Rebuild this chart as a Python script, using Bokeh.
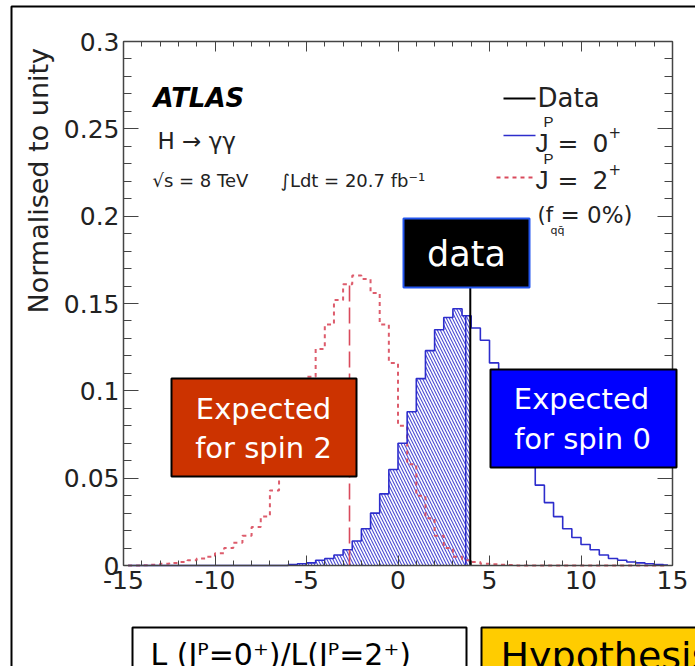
from math import pi
from bokeh.plotting import figure
from bokeh.models import (Label, BoxAnnotation, Arrow, LinearAxis, Range1d,
                          SingleIntervalTicker, CustomJSTickFormatter)
from bokeh.embed import file_html
from bokeh.resources import INLINE

# ---------------- data ----------------
bin_centers = [-14.75, -14.25, -13.75, -13.25, -12.75, -12.25, -11.75, -11.25, -10.75, -10.25,
               -9.75, -9.25, -8.75, -8.25, -7.75, -7.25, -6.75, -6.25, -5.75, -5.25,
               -4.75, -4.25, -3.75, -3.25, -2.75, -2.25, -1.75, -1.25, -0.75, -0.25,
               0.25, 0.75, 1.25, 1.75, 2.25, 2.75, 3.25, 3.75, 4.25, 4.75,
               5.25, 5.75, 6.25, 6.75, 7.25, 7.75, 8.25, 8.75, 9.25, 9.75,
               10.25, 10.75, 11.25, 11.75, 12.25, 12.75, 13.25, 13.75, 14.25, 14.75]
bin_width = 0.5

spin0 = [0, 0, 0, 0, 0, 0, 0, 0, 0, 0,
         0, 0, 0, 0, 0, 0, 0, 0, 0.0005, 0.001,
         0.0015, 0.003, 0.004, 0.006, 0.009, 0.014, 0.021, 0.030, 0.041, 0.055,
         0.070, 0.088, 0.107, 0.123, 0.135, 0.142, 0.147, 0.143, 0.136, 0.129,
         0.116, 0.102, 0.087, 0.073, 0.058, 0.046, 0.036, 0.028, 0.021, 0.016,
         0.012, 0.009, 0.006, 0.004, 0.003, 0.002, 0.0015, 0.001, 0.0005, 0.0003]

spin2 = [0, 0, 0.0002, 0.0005, 0.001, 0.0015, 0.002, 0.003, 0.004, 0.005,
         0.007, 0.010, 0.013, 0.017, 0.022, 0.028, 0.043, 0.062, 0.078, 0.095,
         0.108, 0.124, 0.138, 0.152, 0.161, 0.166, 0.164, 0.156, 0.138, 0.116,
         0.080, 0.058, 0.040, 0.027, 0.017, 0.010, 0.005, 0.003, 0.002, 0.001,
         0.0007, 0.0005, 0.0003, 0, 0, 0, 0, 0, 0, 0,
         0, 0, 0, 0, 0, 0, 0, 0, 0, 0]

data_value = 3.95
data_line_top = 0.16
hatch_edge = 3.7
median_spin2 = -2.65
median_spin2_top = 0.161

x_lo, x_hi = -15, 15
y_lo, y_hi = 0, 0.3
x_tick_interval = 5
y_tick_interval = 0.05

# ---------------- layout (pixels) ----------------
W, H = 695, 666
FL, FR, FT, FB = 123, 672, 41, 565   # plot box edges on the canvas

FONT = "DejaVu Sans"
FONT_J = "Liberation Sans"
BLUE = "#2d2dcc"
RED = "#d94a5c"
AXC = "#444444"
TXT = "#222222"

# the figure's frame covers the whole canvas; the plot box is placed inside it
kx = (FR - FL) / (x_hi - x_lo)
ky = (FB - FT) / (y_hi - y_lo)
xr = Range1d(x_lo - FL / kx, x_hi + (W - FR) / kx)
yr = Range1d(y_lo - (H - FB) / ky, y_hi + FT / ky)

p = figure(width=W, height=H, output_backend="svg", toolbar_location=None,
           x_range=xr, y_range=yr, x_axis_location=None, y_axis_location=None,
           min_border=0, min_border_left=0, min_border_right=0,
           min_border_top=0, min_border_bottom=0)
p.grid.visible = False
p.outline_line_color = None
p.background_fill_color = "white"
p.border_fill_color = "white"

xfmt = CustomJSTickFormatter(code="return tick.toFixed(0);")
yfmt = CustomJSTickFormatter(code="return tick.toFixed(2).replace(/0+$/,'').replace(/\\.$/,'');")
eps = 1e-6

def make_axis(interval, bounds, loc, tin, tout, mtin, mtout, fmt, standoff, show_labels=True):
    ax = LinearAxis(ticker=SingleIntervalTicker(interval=interval, num_minor_ticks=5),
                    formatter=fmt, fixed_location=loc, bounds=bounds)
    ax.axis_line_color = AXC
    ax.axis_line_width = 1.5
    ax.major_tick_line_color = AXC
    ax.minor_tick_line_color = AXC
    ax.major_tick_in = tin
    ax.major_tick_out = tout
    ax.minor_tick_in = mtin
    ax.minor_tick_out = mtout
    ax.major_label_text_font = FONT
    ax.major_label_text_font_size = "25px"
    ax.major_label_text_color = TXT if show_labels else None
    ax.major_label_standoff = standoff
    return ax

xb = (x_lo - eps, x_hi + eps)
yb = (y_lo - eps, y_hi + eps)
# bottom and left axes with labels; top and right edges of the box drawn by
# label-less axes whose ticks point into the box
p.add_layout(make_axis(x_tick_interval, xb, y_lo, 10, 0, 5, 0, xfmt, 5), "below")
p.add_layout(make_axis(y_tick_interval, yb, x_lo, 15, 0, 8, 0, yfmt, 4), "left")
p.add_layout(make_axis(x_tick_interval, xb, y_hi, 0, 10, 0, 5, xfmt, 0, False), "below")
p.add_layout(make_axis(y_tick_interval, yb, x_hi, 0, 15, 0, 8, yfmt, 0, False), "left")

# ---------------- glyphs ----------------
hx, hy = [x_lo], [0]
for c, v in zip(bin_centers, spin0):
    left = c - bin_width / 2
    right = min(c + bin_width / 2, data_value)
    if left >= data_value:
        break
    hx += [left, right]
    hy += [v, v]
hx.append(data_value)
hy.append(0)
p.patch(hx, hy, fill_color=None, line_color=None,
        hatch_pattern="\\", hatch_color=BLUE, hatch_alpha=0.85, hatch_scale=6, hatch_weight=1.1)

p.step(bin_centers, spin2, mode="center", line_color=RED, line_width=2, line_dash="4 4", line_alpha=0.9)
p.step(bin_centers, spin0, mode="center", line_color=BLUE, line_width=1.6)

hatch_top = [v for c, v in zip(bin_centers, spin0) if abs(c - hatch_edge) < bin_width / 2][0]
p.segment(x0=[hatch_edge], y0=[0], x1=[hatch_edge], y1=[hatch_top], line_color=BLUE, line_width=1.5)
p.segment(x0=[median_spin2], y0=[0], x1=[median_spin2], y1=[median_spin2_top],
          line_color=RED, line_width=1.6, line_dash="16 6")
p.segment(x0=[data_value], y0=[0], x1=[data_value], y1=[data_line_top],
          line_color="black", line_width=2)

# ---------------- screen-space decorations ----------------
def sy(y):
    return H - y

def box(l, t, r, b, fill, line="black", lw=2):
    p.add_layout(BoxAnnotation(left=l, right=r, top=sy(t), bottom=sy(b),
                               left_units="screen", right_units="screen",
                               top_units="screen", bottom_units="screen",
                               fill_color=fill, fill_alpha=1 if fill else 0,
                               line_color=line, line_alpha=1, line_width=lw))

BASE_SHIFT = 0.34

def lab(text, x, y, size, color=TXT, align="left", style="normal", font=FONT):
    p.add_layout(Label(x=x, y=sy(y - BASE_SHIFT * size), x_units="screen", y_units="screen",
                       text=text, text_font=font, text_font_size=f"{size}px", text_color=color,
                       text_align=align, text_baseline="alphabetic", text_font_style=style))

def seg(x0, y0, x1, y1, color, lw=2, dash="solid"):
    p.add_layout(Arrow(x_start=x0, y_start=sy(y0), x_end=x1, y_end=sy(y1),
                       start_units="screen", end_units="screen", end=None,
                       line_color=color, line_width=lw, line_dash=dash))

# slide frame
box(11, 6, 760, 760, None, "black", 2)

# y axis title (rotated)
p.add_layout(Label(x=38, y=sy(313), x_units="screen", y_units="screen", text="Normalised to unity",
                   text_font=FONT, text_font_size="27px", text_color=TXT,
                   text_align="left", text_baseline="middle", angle=pi / 2))

# ATLAS texts
lab("ATLAS", 153, 106, 26, "black", style="bold italic")
lab("H \u2192 \u03b3\u03b3", 157, 148, 23)
lab("\u221as = 8 TeV", 152, 186, 18)
lab("\u222bLdt = 20.7 fb\u207b\u00b9", 280, 186, 18)

# legend
seg(503, 98, 535, 98, "black", 2)
lab("Data", 537, 106, 26)
seg(503, 135, 535, 135, BLUE, 1.6)
lab("J", 535, 151, 26, font=FONT_J)
lab("P", 543, 126, 15, font=FONT_J)
lab("=", 557, 151, 25)
lab("0", 592, 151, 25)
lab("+", 608, 137, 15)
seg(496, 177, 533, 177, RED, 2, "4 4")
lab("J", 535, 188, 26, font=FONT_J)
lab("P", 543, 163, 15, font=FONT_J)
lab("=", 557, 188, 25)
lab("2", 592, 188, 25)
lab("+", 608, 174, 15)
lab("(f", 537, 222, 21)
lab("qq\u0304", 550, 234, 11)
lab("= 0%)", 560, 222, 23)

# annotation boxes
box(403, 218, 529, 287, "black", "#2255ee", 2)
lab("data", 466, 265, 35, "white", align="center")
box(171, 378, 356, 476, "#cc3300")
lab("Expected", 263, 418, 29, "white", align="center")
lab("for spin 2", 263, 457, 29, "white", align="center")
box(490, 369, 676, 467, "#0000ff")
lab("Expected", 581, 408, 29, "white", align="center")
lab("for spin 0", 582, 448, 29, "white", align="center")

# bottom boxes (cut by the edge, as in the slide)
box(132, 627, 466, 720, "white")
lab("L (J\u1d3e=0\u207a)/L(J\u1d3e=2\u207a)", 150, 664, 30, "black")
box(481, 627, 760, 720, "#ffcc00")
lab("Hypothesis", 500, 668, 38, "black")

html = file_html(p, INLINE)
html = html.replace("<head>", "<head><style>html, body {margin: 0; padding: 0; overflow: hidden;}</style>", 1)
open("out.html", "w").write(html)
